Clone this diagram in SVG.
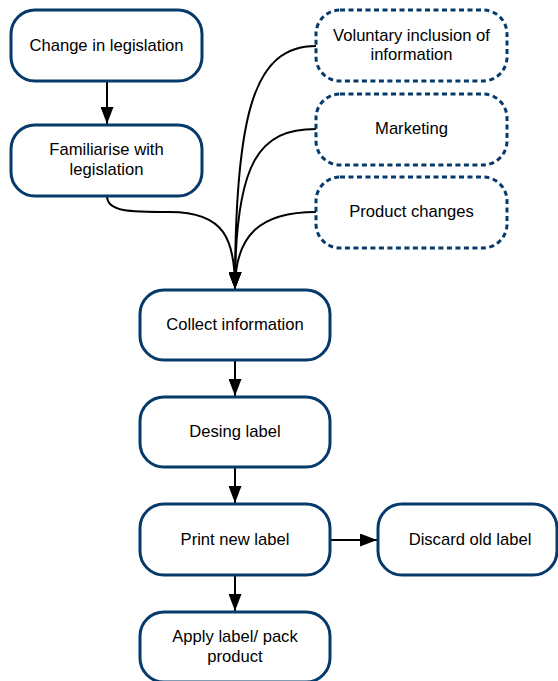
<svg xmlns="http://www.w3.org/2000/svg" width="558" height="681" viewBox="0 0 558 681">
<style>
.box{fill:#fff;stroke:#063a6b;stroke-width:3}
.dash{fill:#fff;stroke:#063a6b;stroke-width:3;stroke-dasharray:5 3.5;stroke-linecap:butt}
.t{font-family:"Liberation Sans",Arial,sans-serif;font-size:16.6px;fill:#000;text-anchor:middle}
.c{fill:none;stroke:#000;stroke-width:2}
</style>
<defs>
<marker id="ah" markerUnits="userSpaceOnUse" markerWidth="17" markerHeight="13" refX="17" refY="6.5" orient="auto">
<path d="M0,0 L17,6.5 L0,13 z" fill="#000"/>
</marker>
</defs>
<rect width="558" height="681" fill="#fff"/>
<g id="connectors">
<path class="c" d="M107,81 L107,124" marker-end="url(#ah)"/>
<path class="c" d="M107,196 C107,212 130,212 170,212 C225,212 235,240 235,289" marker-end="url(#ah)"/>
<path class="c" d="M316,46 C255,46 235,110 235,289" marker-end="url(#ah)"/>
<path class="c" d="M316,129 C260,129 235,160 235,289" marker-end="url(#ah)"/>
<path class="c" d="M316,212 C260,212 235,235 235,289" marker-end="url(#ah)"/>
<path class="c" d="M235,361 L235,396" marker-end="url(#ah)"/>
<path class="c" d="M235,468 L235,503" marker-end="url(#ah)"/>
<path class="c" d="M331,540 L377,540" marker-end="url(#ah)"/>
<path class="c" d="M235,576 L235,611" marker-end="url(#ah)"/>
</g>
<g id="change">
<rect class="box" x="11" y="10" width="191" height="71" rx="24"/>
<text class="t" x="106.5" y="51">Change in legislation</text>
</g>
<g id="familiarise">
<rect class="box" x="11" y="125" width="191" height="71" rx="24"/>
<text class="t" x="106.5" y="155">Familiarise with</text>
<text class="t" x="106.5" y="175">legislation</text>
</g>
<g id="voluntary">
<rect class="dash" x="316" y="10" width="191" height="71" rx="24"/>
<text class="t" x="411.5" y="41">Voluntary inclusion of</text>
<text class="t" x="411.5" y="60">information</text>
</g>
<g id="marketing">
<rect class="dash" x="316" y="94" width="191" height="71" rx="24"/>
<text class="t" x="411.5" y="134">Marketing</text>
</g>
<g id="product-changes">
<rect class="dash" x="316" y="177" width="191" height="71" rx="24"/>
<text class="t" x="411.5" y="217">Product changes</text>
</g>
<g id="collect">
<rect class="box" x="140" y="290" width="190" height="70" rx="24"/>
<text class="t" x="235" y="330">Collect information</text>
</g>
<g id="design">
<rect class="box" x="140" y="397" width="190" height="70" rx="24"/>
<text class="t" x="235" y="437">Desing label</text>
</g>
<g id="print">
<rect class="box" x="140" y="504" width="190" height="71" rx="24"/>
<text class="t" x="235" y="545">Print new label</text>
</g>
<g id="discard">
<rect class="box" x="378" y="504" width="179" height="71" rx="24"/>
<text class="t" x="470" y="545">Discard old label</text>
</g>
<g id="apply">
<rect class="box" x="140" y="612" width="190" height="70" rx="24"/>
<text class="t" x="235" y="642">Apply label/ pack</text>
<text class="t" x="235" y="662">product</text>
</g>
</svg>
